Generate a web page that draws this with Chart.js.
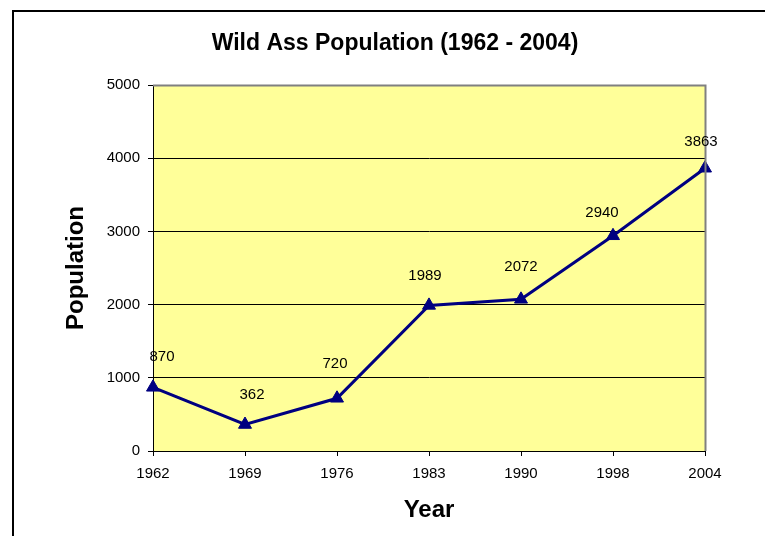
<!DOCTYPE html>
<html>
<head>
<meta charset="utf-8">
<script src="https://cdn.jsdelivr.net/npm/chart.js@4.4.1/dist/chart.umd.min.js"></script>
<style>
html,body{margin:0;padding:0;background:#fff;}
#wrap{width:765px;height:536px;position:relative;}
</style>
</head>
<body>
<div id="wrap"><canvas id="c" width="765" height="536"></canvas></div>
<script>
const years = ['1962', '1969', '1976', '1983', '1990', '1998', '2004'];
const population = [870, 362, 720, 1989, 2072, 2940, 3863];
const yTicks = [0, 1000, 2000, 3000, 4000, 5000];
// small label nudges (px) relative to each point, as in the original
const labelDx = [9, 7, -2, -4, 0, -11, -4];
const labelDy = [30, 30, 34, 30, 32, 23, 26];

const FONT = "'Liberation Sans', Arial, Helvetica, sans-serif";

const frame = {
  id: 'frame',
  beforeDraw(chart) {
    const ctx = chart.ctx;
    ctx.save();
    ctx.fillStyle = '#ffffff';
    ctx.fillRect(0, 0, chart.width, chart.height);
    ctx.strokeStyle = '#000000';
    ctx.lineWidth = 2;
    ctx.strokeRect(13, 11, chart.width + 20, chart.height + 20);
    const a = chart.chartArea;
    ctx.fillStyle = '#FFFF99';
    ctx.fillRect(a.left, a.top, a.right - a.left, a.bottom - a.top);
    ctx.restore();
  },
  afterDatasetsDraw(chart) {
    const ctx = chart.ctx;
    const a = chart.chartArea;
    ctx.save();
    ctx.strokeStyle = '#808080';
    ctx.lineWidth = 2;
    ctx.beginPath();
    ctx.moveTo(a.left, a.top + 0.5);
    ctx.lineTo(a.right + 0.5, a.top + 0.5);
    ctx.lineTo(a.right + 0.5, a.bottom);
    ctx.stroke();
    ctx.restore();
  }
};

const valueLabels = {
  id: 'valueLabels',
  afterDatasetsDraw(chart) {
    const ctx = chart.ctx;
    const meta = chart.getDatasetMeta(0);
    ctx.save();
    ctx.font = '15px ' + FONT;
    ctx.fillStyle = '#000';
    ctx.textAlign = 'center';
    ctx.textBaseline = 'middle';
    meta.data.forEach((pt, i) => {
      ctx.fillText(String(population[i]), pt.x + labelDx[i], pt.y - labelDy[i]);
    });
    ctx.restore();
  }
};

new Chart(document.getElementById('c'), {
  type: 'line',
  data: {
    labels: years,
    datasets: [{
      data: population,
      yAxisID: 'y',
      borderColor: '#000080',
      backgroundColor: '#000080',
      borderWidth: 3,
      tension: 0,
      pointStyle: 'triangle',
      pointRadius: 7.5,
      pointHoverRadius: 7.5,
      pointBorderWidth: 1,
      pointBorderColor: '#000080',
      pointBackgroundColor: '#000080'
    }]
  },
  options: {
    responsive: false,
    animation: false,
    events: [],
    layout: { padding: { left: 25, right: 0, top: 0, bottom: 0 } },
    plugins: {
      legend: { display: false },
      tooltip: { enabled: false },
      title: {
        display: true,
        text: 'Wild Ass Population (1962 - 2004)',
        color: '#000',
        font: { family: FONT, size: 23, weight: 'bold', lineHeight: 1.2 },
        padding: { top: 30.2, bottom: 27.2 }
      }
    },
    scales: {
      x: {
        type: 'category',
        offset: false,
        afterFit(s) { s.height = 85; },
        grid: { drawOnChartArea: false, drawTicks: true, tickLength: 5, color: '#000', tickColor: '#000' },
        border: { display: true, color: '#000', width: 1 },
        ticks: { color: '#000', font: { family: FONT, size: 15 }, padding: 9, maxRotation: 0, autoSkip: false },
        title: {
          display: true, text: 'Year', color: '#000',
          font: { family: FONT, size: 24, weight: 'bold', lineHeight: 1.2 },
          padding: { top: 0, bottom: 11 }
        }
      },
      y: {
        min: 0, max: 5000,
        afterFit(s) { s.width = 128; },
        afterBuildTicks(s) { s.ticks = yTicks.map(v => ({ value: v })); },
        grid: {
          drawTicks: true, tickLength: 5,
          color: c => (c.tick && c.tick.value === 5000) ? 'rgba(0,0,0,0)' : '#000',
          tickColor: '#000', lineWidth: 1
        },
        border: { display: true, color: '#000', width: 1 },
        ticks: { color: '#000', font: { family: FONT, size: 15 }, padding: 8, callback: v => String(v) },
        title: {
          display: true, text: 'Population', color: '#000',
          font: { family: FONT, size: 24, weight: 'bold', lineHeight: 1.2 },
          padding: { top: 37, bottom: 0 }
        }
      },
      yRight: {
        position: 'right',
        min: 0, max: 5000,
        afterFit(s) { s.width = 60; },
        grid: { display: false },
        border: { display: false },
        ticks: { display: false },
        title: { display: false }
      }
    }
  },
  plugins: [frame, valueLabels]
});
</script>
</body>
</html>
